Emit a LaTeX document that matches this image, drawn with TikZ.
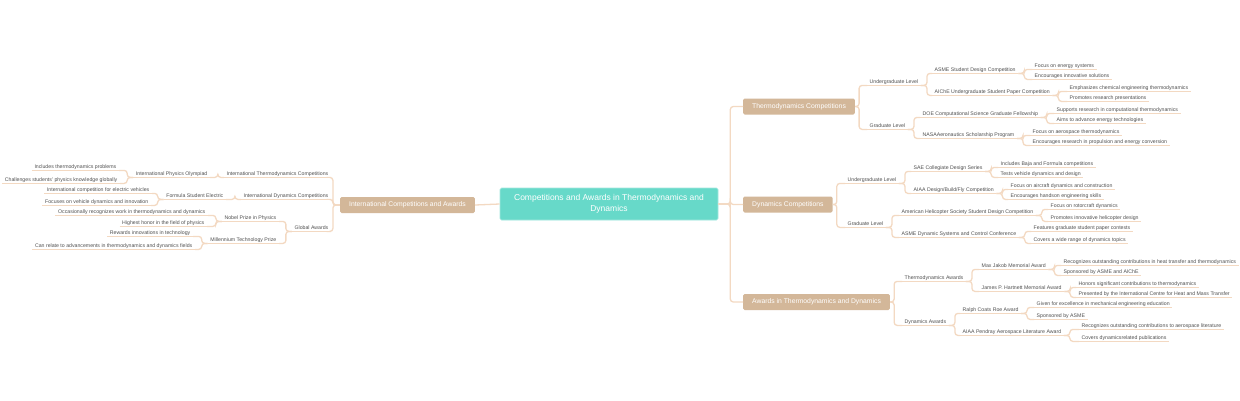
\documentclass[tikz,border=0pt]{standalone}
\usepackage{fontspec}
\setmainfont{Liberation Sans}
\definecolor{conncol}{HTML}{F3D9C2}
\definecolor{boxcol}{HTML}{D3B799}
\definecolor{centcol}{HTML}{67D9C9}
\definecolor{txtcol}{HTML}{505050}
\tikzset{
  txt/.style={font=\fontsize{5.2}{6}\selectfont, text=txtcol, inner xsep=2.5pt, inner ysep=0.8pt, text height=3.8pt, text depth=1pt},
  ul/.style={draw=conncol, line width=1.3pt},
  conn/.style={draw=conncol, line width=1.3pt, rounded corners=3pt},
  box/.style={fill=boxcol, text=white, font=\fontsize{6.8}{8}\selectfont, rounded corners=1.5pt, minimum height=16pt, inner xsep=9pt, inner ysep=0pt},
  central/.style={fill=centcol, draw=centcol!60!white, line width=0.6pt, text=white, font=\fontsize{8.5}{11}\selectfont, align=center, rounded corners=1.5pt, minimum width=218pt, minimum height=32pt, inner sep=0pt}
}
\newcommand\mapR[4]{\node[txt,anchor=west] (#1) at (#2,#3) {#4}; \draw[ul] (#1.south west) -- (#1.south east);}
\newcommand\mapL[4]{\node[txt,anchor=east] (#1) at (#2,#3) {#4}; \draw[ul] (#1.south west) -- (#1.south east);}
\newcommand\cR[2]{\draw[conn] (#1.south east) -- ++(6,0) |- (#2.south west);}
\newcommand\cL[2]{\draw[conn] (#1.south west) -- ++(-6,0) |- (#2.south east);}
\newcommand\bR[2]{\draw[conn] (#1.east) -- ++(4,0) |- (#2.south west);}
\newcommand\bL[2]{\draw[conn] (#1.west) -- ++(-7,0) |- (#2.south east);}
\begin{document}
\begin{tikzpicture}[x=1pt,y=-1pt]
\fill[white] (0,0) rectangle (1240,400);
\useasboundingbox (0,0) rectangle (1240,400);
% central and boxes
\node[central] (c) at (609,204) {Competitions and Awards in Thermodynamics and\\Dynamics};
\node[box,anchor=west] (bt) at (743,106.5) {Thermodynamics Competitions};
\node[box,anchor=west] (bd) at (743,204.5) {Dynamics Competitions};
\node[box,anchor=west] (ba) at (743,302) {Awards in Thermodynamics and Dynamics};
\node[box,anchor=east] (bl) at (475,205) {International Competitions and Awards};
\draw[conn] (c.east) -- ++(12,0) |- (bt.west);
\draw[conn] (c.east) -- ++(12,0) |- (bd.west);
\draw[conn] (c.east) -- ++(12,0) |- (ba.west);
\draw[conn] (c.west) -- (bl.east);
% Thermodynamics competitions
\mapR{tu}{867}{82}{Undergraduate Level}
\mapR{tg}{867}{126}{Graduate Level}
\mapR{tua}{932}{70}{ASME Student Design Competition}
\mapR{tub}{932}{92}{AIChE Undergraduate Student Paper Competition}
\mapR{tga}{920}{114}{DOE Computational Science Graduate Fellowship}
\mapR{tgb}{920}{135}{NASAAeronautics Scholarship Program}
\mapR{tua1}{1032}{66}{Focus on energy systems}
\mapR{tua2}{1032}{76}{Encourages innovative solutions}
\mapR{tub1}{1067}{88}{Emphasizes chemical engineering thermodynamics}
\mapR{tub2}{1067}{98}{Promotes research presentations}
\mapR{tga1}{1054}{110}{Supports research in computational thermodynamics}
\mapR{tga2}{1054}{120}{Aims to advance energy technologies}
\mapR{tgb1}{1030}{132}{Focus on aerospace thermodynamics}
\mapR{tgb2}{1030}{142}{Encourages research in propulsion and energy conversion}
\bR{bt}{tu} \bR{bt}{tg}
\cR{tu}{tua} \cR{tu}{tub} \cR{tg}{tga} \cR{tg}{tgb}
\cR{tua}{tua1} \cR{tua}{tua2} \cR{tub}{tub1} \cR{tub}{tub2}
\cR{tga}{tga1} \cR{tga}{tga2} \cR{tgb}{tgb1} \cR{tgb}{tgb2}
% Dynamics competitions
\mapR{du}{845}{180}{Undergraduate Level}
\mapR{dg}{845}{224}{Graduate Level}
\mapR{dua}{911}{168}{SAE Collegiate Design Series}
\mapR{dub}{911}{190}{AIAA Design/Build/Fly Competition}
\mapR{dga}{899}{212}{American Helicopter Society Student Design Competition}
\mapR{dgb}{899}{234}{ASME Dynamic Systems and Control Conference}
\mapR{dua1}{998}{164}{Includes Baja and Formula competitions}
\mapR{dua2}{998}{174}{Tests vehicle dynamics and design}
\mapR{dub1}{1008}{186}{Focus on aircraft dynamics and construction}
\mapR{dub2}{1008}{196}{Encourages handson engineering skills}
\mapR{dga1}{1048}{206}{Focus on rotorcraft dynamics}
\mapR{dga2}{1048}{218}{Promotes innovative helicopter design}
\mapR{dgb1}{1031}{228}{Features graduate student paper contests}
\mapR{dgb2}{1031}{240}{Covers a wide range of dynamics topics}
\bR{bd}{du} \bR{bd}{dg}
\cR{du}{dua} \cR{du}{dub} \cR{dg}{dga} \cR{dg}{dgb}
\cR{dua}{dua1} \cR{dua}{dua2} \cR{dub}{dub1} \cR{dub}{dub2}
\cR{dga}{dga1} \cR{dga}{dga2} \cR{dgb}{dgb1} \cR{dgb}{dgb2}
% Awards
\mapR{at}{902}{278}{Thermodynamics Awards}
\mapR{ad}{902}{322}{Dynamics Awards}
\mapR{ata}{979}{266}{Max Jakob Memorial Award}
\mapR{atb}{979}{288}{James P. Hartnett Memorial Award}
\mapR{ada}{960}{310}{Ralph Coats Roe Award}
\mapR{adb}{960}{332}{AIAA Pendray Aerospace Literature Award}
\mapR{ata1}{1061}{262}{Recognizes outstanding contributions in heat transfer and thermodynamics}
\mapR{ata2}{1061}{272}{Sponsored by ASME and AIChE}
\mapR{atb1}{1076}{284}{Honors significant contributions to thermodynamics}
\mapR{atb2}{1076}{294}{Presented by the International Centre for Heat and Mass Transfer}
\mapR{ada1}{1034}{304}{Given for excellence in mechanical engineering education}
\mapR{ada2}{1034}{316}{Sponsored by ASME}
\mapR{adb1}{1079}{326}{Recognizes outstanding contributions to aerospace literature}
\mapR{adb2}{1079}{338}{Covers dynamicsrelated publications}
\bR{ba}{at} \bR{ba}{ad}
\cR{at}{ata} \cR{at}{atb} \cR{ad}{ada} \cR{ad}{adb}
\cR{ata}{ata1} \cR{ata}{ata2} \cR{atb}{atb1} \cR{atb}{atb2}
\cR{ada}{ada1} \cR{ada}{ada2} \cR{adb}{adb1} \cR{adb}{adb2}
% Left side
\mapL{lt}{331}{174}{International Thermodynamics Competitions}
\mapL{ld}{331}{196}{International Dynamics Competitions}
\mapL{lg}{331}{228}{Global Awards}
\mapL{lta}{210}{174}{International Physics Olympiad}
\mapL{lda}{226}{196}{Formula Student Electric}
\mapL{lga}{279}{218}{Nobel Prize in Physics}
\mapL{lgb}{279}{240}{Millennium Technology Prize}
\mapL{lta1}{119}{167}{Includes thermodynamics problems}
\mapL{lta2}{120}{180}{Challenges students' physics knowledge globally}
\mapL{lda1}{152}{190}{International competition for electric vehicles}
\mapL{lda2}{151}{202}{Focuses on vehicle dynamics and innovation}
\mapL{lga1}{208}{212}{Occasionally recognizes work in thermodynamics and dynamics}
\mapL{lga2}{207}{223}{Highest honor in the field of physics}
\mapL{lgb1}{193}{233}{Rewards innovations in technology}
\mapL{lgb2}{195}{246}{Can relate to advancements in thermodynamics and dynamics fields}
\bL{bl}{lt} \bL{bl}{ld} \bL{bl}{lg}
\cL{lt}{lta} \cL{ld}{lda} \cL{lg}{lga} \cL{lg}{lgb}
\cL{lta}{lta1} \cL{lta}{lta2} \cL{lda}{lda1} \cL{lda}{lda2}
\cL{lga}{lga1} \cL{lga}{lga2} \cL{lgb}{lgb1} \cL{lgb}{lgb2}
\end{tikzpicture}
\end{document}
